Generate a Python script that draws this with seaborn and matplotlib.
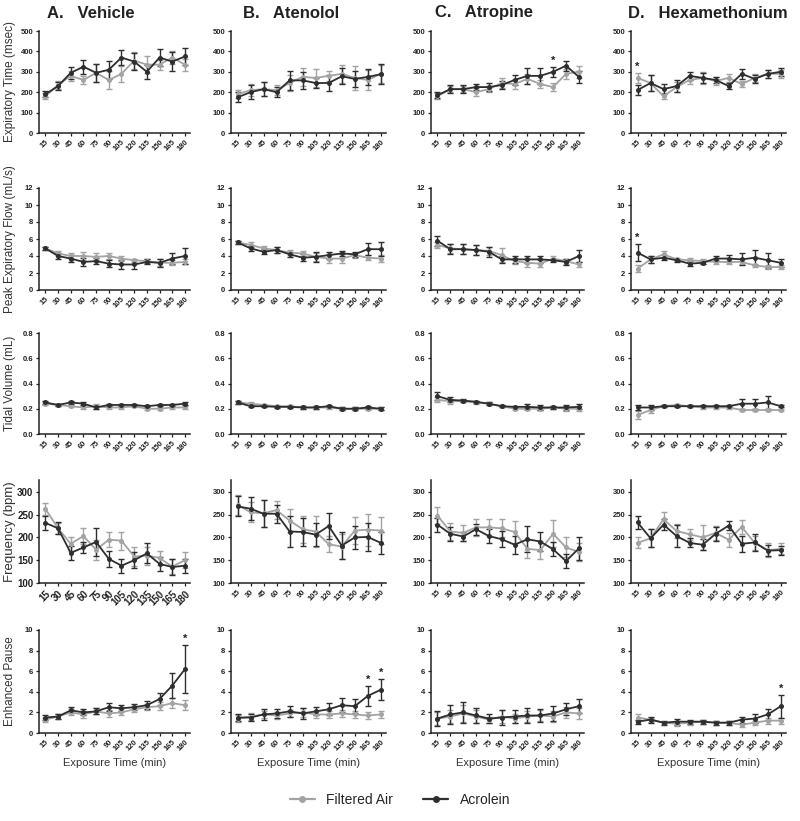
"""
Ventilatory parameters over exposure time - filtered air vs acrolein,
four pretreatment groups (vehicle, atenolol, atropine, hexamethonium).
"""

import matplotlib

matplotlib.use("Agg")
import matplotlib.pyplot as plt
import numpy as np
import pandas as pd
import seaborn as sns
from matplotlib.lines import Line2D

# ---- data ----
times = [15, 30, 45, 60, 75, 90, 105, 120, 135, 150, 165, 180]
groups = ["A.   Vehicle", "B.   Atenolol", "C.   Atropine", "D.   Hexamethonium"]
series = ["Filtered Air", "Acrolein"]

# expiratory time (msec), one list per group A-D
exp_time_air = [
    [180, 235, 280, 260, 295, 260, 290, 355, 335, 335, 370, 335],
    [190, 210, 215, 210, 245, 275, 270, 280, 290, 270, 260, 290],
    [180, 215, 215, 200, 215, 245, 240, 265, 240, 225, 290, 300],
    [270, 245, 180, 225, 260, 270, 255, 270, 240, 270, 290, 290],
]
exp_time_air_err = [
    [15, 20, 25, 20, 45, 45, 40, 40, 40, 25, 30, 30],
    [20, 30, 35, 25, 40, 45, 45, 25, 45, 60, 50, 45],
    [15, 15, 15, 20, 15, 25, 25, 25, 20, 20, 25, 30],
    [25, 40, 15, 25, 20, 30, 20, 20, 15, 20, 20, 20],
]
exp_time_acr = [
    [190, 230, 295, 325, 295, 310, 370, 350, 300, 370, 350, 375],
    [175, 200, 215, 200, 258, 258, 245, 245, 278, 265, 275, 288],
    [185, 215, 215, 225, 225, 235, 260, 280, 280, 300, 330, 275],
    [210, 245, 215, 230, 280, 270, 260, 230, 290, 265, 290, 300],
]
exp_time_acr_err = [
    [15, 20, 30, 35, 45, 45, 35, 40, 35, 40, 45, 40],
    [25, 35, 35, 25, 45, 40, 25, 40, 40, 40, 40, 50],
    [15, 20, 20, 15, 20, 20, 25, 40, 40, 25, 25, 30],
    [25, 40, 25, 30, 20, 25, 15, 15, 25, 20, 20, 20],
]

# peak expiratory flow (mL/s)
pef_air = [
    [4.9, 4.3, 4.0, 4.0, 3.9, 4.0, 3.7, 3.5, 3.4, 3.2, 3.2, 3.3],
    [5.6, 5.3, 4.9, 4.7, 4.4, 4.3, 3.9, 3.7, 3.7, 4.1, 3.8, 3.7],
    [5.3, 4.9, 4.8, 4.7, 4.6, 4.1, 3.4, 3.2, 3.1, 3.7, 3.4, 3.0],
    [2.5, 3.6, 4.2, 3.6, 3.5, 3.4, 3.3, 3.3, 3.3, 2.9, 2.7, 2.7],
]
pef_air_err = [
    [0.2, 0.3, 0.4, 0.5, 0.4, 0.4, 0.3, 0.2, 0.2, 0.4, 0.3, 0.3],
    [0.2, 0.3, 0.3, 0.3, 0.3, 0.3, 0.5, 0.5, 0.5, 0.3, 0.3, 0.4],
    [0.4, 0.5, 0.6, 0.6, 0.5, 0.8, 0.4, 0.5, 0.4, 0.3, 0.3, 0.3],
    [0.4, 0.4, 0.4, 0.2, 0.3, 0.3, 0.2, 0.3, 0.3, 0.2, 0.2, 0.2],
]
pef_acr = [
    [4.9, 4.0, 3.7, 3.3, 3.4, 3.1, 3.0, 3.0, 3.3, 3.2, 3.7, 4.0],
    [5.6, 4.9, 4.5, 4.7, 4.2, 3.8, 3.9, 4.1, 4.3, 4.2, 4.8, 4.8],
    [5.8, 4.8, 4.8, 4.7, 4.5, 3.6, 3.6, 3.6, 3.6, 3.5, 3.3, 4.0],
    [4.4, 3.6, 3.8, 3.5, 3.1, 3.2, 3.7, 3.7, 3.6, 3.8, 3.5, 3.2],
]
pef_acr_err = [
    [0.2, 0.3, 0.4, 0.5, 0.4, 0.4, 0.5, 0.5, 0.3, 0.5, 0.7, 0.9],
    [0.2, 0.3, 0.3, 0.3, 0.3, 0.4, 0.6, 0.4, 0.3, 0.3, 0.7, 0.8],
    [0.6, 0.6, 0.6, 0.6, 0.6, 0.4, 0.4, 0.4, 0.4, 0.2, 0.4, 0.7],
    [1.0, 0.4, 0.3, 0.2, 0.3, 0.2, 0.3, 0.4, 0.7, 0.9, 0.9, 0.5],
]

# tidal volume (mL)
tv_air = [
    [0.24, 0.23, 0.22, 0.21, 0.22, 0.21, 0.21, 0.22, 0.20, 0.20, 0.21, 0.21],
    [0.25, 0.24, 0.23, 0.22, 0.22, 0.21, 0.21, 0.21, 0.20, 0.20, 0.20, 0.20],
    [0.27, 0.26, 0.26, 0.25, 0.24, 0.22, 0.20, 0.20, 0.20, 0.21, 0.20, 0.20],
    [0.15, 0.19, 0.22, 0.23, 0.22, 0.21, 0.21, 0.21, 0.19, 0.19, 0.19, 0.19],
]
tv_air_err = [
    [0.01, 0.01, 0.01, 0.01, 0.02, 0.01, 0.01, 0.01, 0.01, 0.01, 0.01, 0.01],
    [0.01, 0.01, 0.01, 0.01, 0.01, 0.01, 0.01, 0.01, 0.01, 0.01, 0.01, 0.01],
    [0.02, 0.02, 0.01, 0.01, 0.01, 0.01, 0.01, 0.01, 0.01, 0.01, 0.02, 0.02],
    [0.03, 0.02, 0.01, 0.01, 0.01, 0.01, 0.01, 0.01, 0.01, 0.01, 0.01, 0.01],
]
tv_acr = [
    [0.25, 0.23, 0.25, 0.24, 0.21, 0.23, 0.23, 0.23, 0.22, 0.23, 0.23, 0.24],
    [0.25, 0.22, 0.22, 0.215, 0.215, 0.21, 0.21, 0.22, 0.20, 0.20, 0.21, 0.20],
    [0.30, 0.27, 0.265, 0.255, 0.24, 0.22, 0.215, 0.215, 0.21, 0.21, 0.21, 0.215],
    [0.21, 0.21, 0.22, 0.22, 0.22, 0.22, 0.22, 0.22, 0.24, 0.24, 0.25, 0.22],
]
tv_acr_err = [
    [0.01, 0.01, 0.01, 0.01, 0.01, 0.01, 0.01, 0.01, 0.01, 0.01, 0.01, 0.01],
    [0.01, 0.01, 0.01, 0.01, 0.01, 0.01, 0.01, 0.01, 0.01, 0.01, 0.01, 0.01],
    [0.03, 0.02, 0.01, 0.01, 0.01, 0.01, 0.01, 0.02, 0.02, 0.01, 0.02, 0.02],
    [0.02, 0.02, 0.01, 0.01, 0.01, 0.01, 0.01, 0.01, 0.04, 0.04, 0.05, 0.01],
]

# frequency (bpm)
freq_air = [
    [263, 220, 186, 203, 173, 195, 193, 158, 160, 155, 136, 150],
    [272, 255, 253, 260, 237, 218, 213, 185, 180, 215, 217, 215],
    [248, 213, 210, 222, 222, 220, 212, 175, 172, 208, 178, 168],
    [188, 198, 240, 214, 207, 200, 210, 195, 223, 188, 172, 175],
]
freq_air_err = [
    [13, 12, 15, 17, 22, 17, 20, 20, 20, 15, 17, 17],
    [22, 22, 30, 20, 25, 30, 35, 18, 28, 30, 35, 30],
    [18, 18, 18, 18, 18, 20, 25, 20, 20, 30, 22, 20],
    [12, 20, 15, 15, 12, 28, 15, 15, 15, 15, 15, 12],
]
freq_acr = [
    [232, 220, 166, 178, 190, 153, 138, 150, 165, 142, 135, 138],
    [268, 263, 252, 252, 213, 212, 206, 225, 182, 200, 201, 188],
    [228, 208, 202, 218, 203, 196, 184, 196, 191, 174, 148, 176],
    [233, 198, 228, 203, 188, 184, 208, 226, 186, 189, 171, 172],
]
freq_acr_err = [
    [15, 13, 15, 12, 30, 18, 15, 18, 22, 15, 18, 15],
    [22, 25, 30, 20, 35, 30, 25, 28, 30, 25, 30, 25],
    [15, 15, 10, 12, 15, 18, 20, 28, 20, 15, 15, 25],
    [15, 20, 12, 25, 10, 12, 15, 10, 18, 18, 12, 10],
]

# enhanced pause
penh_air = [
    [1.3, 1.6, 2.0, 1.8, 2.1, 1.9, 2.0, 2.3, 2.5, 2.6, 2.9, 2.7],
    [1.4, 1.6, 1.8, 1.7, 1.9, 2.0, 1.8, 1.8, 1.9, 1.8, 1.7, 1.8],
    [1.4, 1.6, 1.9, 1.6, 1.3, 1.6, 1.4, 1.6, 1.7, 1.6, 2.0, 1.9],
    [1.5, 1.3, 1.0, 0.9, 1.0, 1.1, 1.0, 1.0, 0.8, 1.0, 1.2, 1.2],
]
penh_air_err = [
    [0.2, 0.2, 0.3, 0.3, 0.3, 0.3, 0.3, 0.3, 0.3, 0.4, 0.5, 0.5],
    [0.3, 0.3, 0.3, 0.3, 0.3, 0.4, 0.3, 0.3, 0.3, 0.3, 0.3, 0.3],
    [0.6, 0.6, 0.8, 0.6, 0.3, 0.6, 0.4, 0.5, 0.5, 0.5, 0.5, 0.5],
    [0.3, 0.2, 0.1, 0.2, 0.2, 0.2, 0.2, 0.2, 0.2, 0.2, 0.3, 0.3],
]
penh_acr = [
    [1.5, 1.6, 2.2, 2.0, 2.1, 2.5, 2.4, 2.5, 2.7, 3.3, 4.6, 6.2],
    [1.5, 1.5, 1.8, 1.9, 2.1, 1.9, 2.1, 2.3, 2.7, 2.6, 3.6, 4.2],
    [1.4, 1.8, 2.0, 1.7, 1.4, 1.5, 1.6, 1.7, 1.7, 1.9, 2.3, 2.6],
    [1.1, 1.3, 1.0, 1.1, 1.1, 1.1, 1.0, 1.0, 1.3, 1.4, 1.8, 2.6],
]
penh_acr_err = [
    [0.2, 0.2, 0.3, 0.3, 0.3, 0.4, 0.3, 0.3, 0.4, 0.6, 1.2, 2.3],
    [0.3, 0.3, 0.5, 0.4, 0.5, 0.5, 0.4, 0.6, 0.7, 0.7, 1.0, 1.0],
    [0.7, 0.9, 1.0, 0.7, 0.4, 0.7, 0.6, 0.7, 0.6, 0.7, 0.6, 0.7],
    [0.2, 0.3, 0.2, 0.3, 0.2, 0.2, 0.2, 0.2, 0.3, 0.4, 0.5, 1.1],
]

# significance stars: (row, group, time index)
stars = [(0, 2, 9), (0, 3, 0), (1, 3, 0), (4, 0, 11), (4, 1, 10), (4, 1, 11), (4, 3, 11)]

rows = [
    ("Expiratory Time (msec)", exp_time_air, exp_time_air_err, exp_time_acr, exp_time_acr_err),
    ("Peak Expiratory Flow (mL/s)", pef_air, pef_air_err, pef_acr, pef_acr_err),
    ("Tidal Volume (mL)", tv_air, tv_air_err, tv_acr, tv_acr_err),
    ("Frequency (bpm)", freq_air, freq_air_err, freq_acr, freq_acr_err),
    ("Enhanced Pause", penh_air, penh_air_err, penh_acr, penh_acr_err),
]
ylims = [(0, 500), (0, 12), (0, 0.8), (100, 326), (0, 10)]
yticks = [
    [0, 100, 200, 300, 400, 500],
    [0, 2, 4, 6, 8, 10, 12],
    [0.0, 0.2, 0.4, 0.6, 0.8],
    [100, 150, 200, 250, 300],
    [0, 2, 4, 6, 8, 10],
]
ytick_fmt = ["{:.0f}", "{:.0f}", "{:.1f}", "{:.0f}", "{:.0f}"]
ylabel_size = [8.5, 8.5, 8.5, 9.5, 8.5]

colors = {"Filtered Air": "#a3a3a3", "Acrolein": "#2e2e2e"}

# ---- layout in pixels ----
W, H = 800, 821
col_px = [(39, 190), (231, 386), (431, 584), (631, 786)]
row_px = [(31, 133), (188, 290), (333, 434), (480, 583), (630, 733)]
title_x = [47, 243, 435, 628]

sns.set_style("ticks")
plt.rcParams["font.family"] = ["Liberation Sans", "DejaVu Sans"]

fig = plt.figure(figsize=(W / 100, H / 100), dpi=100)

for r, (ylabel, air, air_err, acr, acr_err) in enumerate(rows):
    for g in range(4):
        left, right = col_px[g]
        top, bottom = row_px[r]
        ax = fig.add_axes([left / W, 1 - bottom / H, (right - left) / W, (bottom - top) / H])

        pos = np.arange(len(times))
        df = pd.DataFrame(
            {
                "pos": np.concatenate([pos, pos]),
                "value": air[g] + acr[g],
                "group": [series[0]] * len(times) + [series[1]] * len(times),
            }
        )
        errs = {series[0]: air_err[g], series[1]: acr_err[g]}

        for name in series:
            sub = df[df["group"] == name]
            ax.errorbar(
                sub["pos"], sub["value"], yerr=errs[name], fmt="none",
                ecolor=colors[name], elinewidth=1.0, capsize=2.2, capthick=1.0,
                zorder=2 if name == series[0] else 3,
            )
        sns.lineplot(
            data=df, x="pos", y="value", hue="group", palette=colors,
            hue_order=series, marker="o", markersize=3.6, markeredgewidth=0,
            linewidth=1.3, legend=False, errorbar=None, ax=ax, zorder=4,
        )

        for (sr, sg, si) in stars:
            if sr == r and sg == g:
                top_val = max(air[g][si] + air_err[g][si], acr[g][si] + acr_err[g][si])
                span = ylims[r][1] - ylims[r][0]
                ax.text(si, top_val + 0.06 * span, "*", ha="center", va="center",
                        fontsize=8, fontweight="bold", color="#222222")

        ax.set_xlim(-0.5, 11.4)
        ax.set_ylim(*ylims[r])
        ax.set_yticks(yticks[r])
        big = (r == 3 and g == 0)
        tick_fs = 7 if big else 5.5
        ax.set_yticklabels([ytick_fmt[r].format(v) for v in yticks[r]],
                           fontsize=tick_fs, fontweight="bold")
        ax.set_xticks(pos)
        ax.set_xticklabels([str(t) for t in times], rotation=45, ha="right",
                           rotation_mode="anchor", fontsize=tick_fs, fontweight="bold")
        ax.tick_params(axis="both", length=2.5, width=0.9, pad=1.5, colors="#222222")
        sns.despine(ax=ax)
        for sp in ("left", "bottom"):
            ax.spines[sp].set_linewidth(1.1)
            ax.spines[sp].set_color("#222222")
        ax.set_xlabel("")
        ax.set_ylabel("")
        if g == 0:
            fig.text(10 / W, 1 - (top + bottom) / 2 / H, ylabel, rotation=90,
                     ha="center", va="center", fontsize=ylabel_size[r], color="#333333")
        if r == 4:
            ax.set_xlabel("Exposure Time (min)", fontsize=8, color="#333333", labelpad=4)
        if r == 0:
            fig.text(title_x[g] / W, 1 - 13 / H, groups[g], ha="left", va="center",
                     fontsize=12, fontweight="bold", color="#222222")

handles = [
    Line2D([0], [0], color=colors[s], marker="o", markersize=5, markeredgewidth=0,
           linewidth=1.6, label=s)
    for s in series
]
fig.legend(handles=handles, loc="center", bbox_to_anchor=(0.5, 1 - 800 / H), ncol=2,
           frameon=False, fontsize=10, handlelength=1.8, columnspacing=2.2)

fig.savefig("out.png", dpi=100)
